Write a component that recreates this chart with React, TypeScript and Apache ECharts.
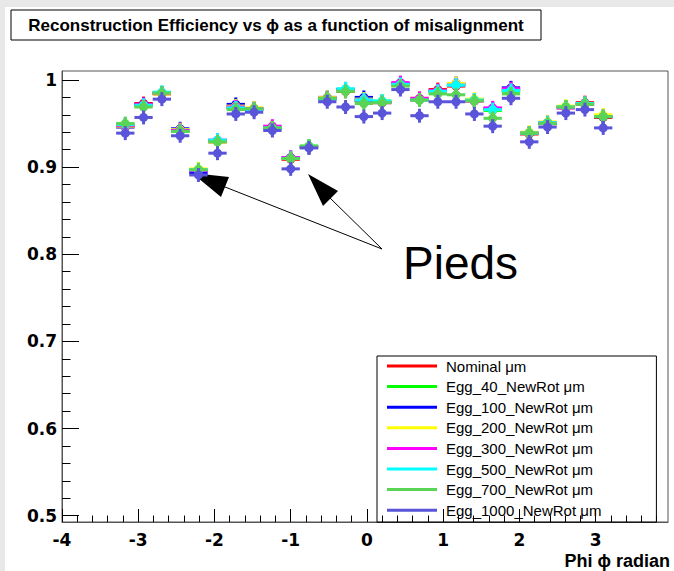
import React, { useEffect, useRef } from "react";
import * as echarts from "echarts";

// Phi bin centres (radian)
const PHI = [
  -3.17, -2.93, -2.69, -2.45, -2.21, -1.96, -1.72, -1.48, -1.24, -1.0, -0.76, -0.52, -0.28, -0.04,
  0.2, 0.44, 0.69, 0.93, 1.17, 1.41, 1.65, 1.89, 2.13, 2.37, 2.61, 2.86, 3.1,
];

// Reconstruction efficiency per misalignment scenario
const NOMINAL = [0.947, 0.973, 0.984, 0.941, 0.896, 0.929, 0.969, 0.966, 0.946, 0.909, 0.923, 0.978, 0.987, 0.976, 0.974, 0.994, 0.977, 0.989, 0.993, 0.976, 0.966, 0.988, 0.938, 0.95, 0.968, 0.974, 0.957];
const EGG_40 = [0.948, 0.971, 0.985, 0.942, 0.897, 0.93, 0.968, 0.967, 0.945, 0.91, 0.924, 0.979, 0.988, 0.977, 0.975, 0.995, 0.978, 0.986, 0.994, 0.977, 0.965, 0.987, 0.939, 0.951, 0.969, 0.972, 0.958];
const EGG_100 = [0.946, 0.972, 0.985, 0.944, 0.893, 0.93, 0.972, 0.967, 0.945, 0.911, 0.923, 0.98, 0.989, 0.98, 0.975, 0.996, 0.978, 0.987, 0.996, 0.977, 0.967, 0.991, 0.939, 0.95, 0.969, 0.973, 0.958];
const EGG_200 = [0.947, 0.97, 0.984, 0.943, 0.898, 0.929, 0.97, 0.968, 0.946, 0.91, 0.924, 0.98, 0.988, 0.978, 0.976, 0.995, 0.979, 0.987, 0.996, 0.978, 0.966, 0.989, 0.94, 0.952, 0.97, 0.973, 0.96];
const EGG_300 = [0.948, 0.972, 0.985, 0.942, 0.896, 0.931, 0.969, 0.967, 0.947, 0.911, 0.923, 0.979, 0.989, 0.977, 0.974, 0.997, 0.979, 0.988, 0.994, 0.976, 0.968, 0.99, 0.939, 0.951, 0.968, 0.972, 0.958];
const EGG_500 = [0.949, 0.971, 0.986, 0.941, 0.897, 0.931, 0.968, 0.966, 0.945, 0.91, 0.924, 0.978, 0.99, 0.977, 0.976, 0.995, 0.977, 0.987, 0.994, 0.977, 0.966, 0.988, 0.939, 0.951, 0.969, 0.973, 0.958];
const EGG_700 = [0.95, 0.969, 0.985, 0.941, 0.897, 0.929, 0.966, 0.967, 0.945, 0.91, 0.924, 0.979, 0.987, 0.973, 0.974, 0.993, 0.977, 0.984, 0.983, 0.976, 0.956, 0.984, 0.939, 0.95, 0.969, 0.972, 0.958];
const EGG_1000 = [0.939, 0.957, 0.978, 0.936, 0.891, 0.916, 0.961, 0.963, 0.942, 0.898, 0.922, 0.975, 0.969, 0.958, 0.962, 0.989, 0.959, 0.975, 0.975, 0.961, 0.947, 0.979, 0.929, 0.946, 0.962, 0.966, 0.945];

const SERIES_NAMES = [
  "Nominal μm",
  "Egg_40_NewRot μm",
  "Egg_100_NewRot μm",
  "Egg_200_NewRot μm",
  "Egg_300_NewRot μm",
  "Egg_500_NewRot μm",
  "Egg_700_NewRot μm",
  "Egg_1000_NewRot μm",
];
const SERIES_VALUES = [NOMINAL, EGG_40, EGG_100, EGG_200, EGG_300, EGG_500, EGG_700, EGG_1000];
const SERIES_COLORS = ["#ff0000", "#00ff00", "#0000ff", "#ffff00", "#ff00ff", "#00ffff", "#59d454", "#5954d9"];

// Axis ticks
const X_TICKS = [-4, -3, -2, -1, 0, 1, 2, 3];
const Y_TICKS = [0.5, 0.6, 0.7, 0.8, 0.9, 1];
const X_RANGE = [-4, 3.95];
const Y_RANGE = [0.4928, 1.0103];

const HALF_BIN = 0.12; // half width of a phi bin
const EFF_ERR = 0.008; // statistical error on efficiency

const FONT = "'Liberation Sans', Arial, Helvetica, sans-serif";
const WIDE_FONT = "'DejaVu Sans', 'Liberation Sans', sans-serif";

function minorTicks(major: number[], lo: number, hi: number, step: number): number[] {
  const out: number[] = [];
  const first = Math.ceil((lo - 1e-9) / step);
  const last = Math.floor((hi + 1e-9) / step);
  for (let k = first; k <= last; k++) {
    const v = +(k * step).toFixed(6);
    if (!major.some((m) => Math.abs(m - v) < 1e-6)) out.push(v);
  }
  return out;
}

export default function App() {
  const ref = useRef<HTMLDivElement>(null);

  useEffect(() => {
    if (!ref.current) return;
    const chart = echarts.init(ref.current, undefined, { renderer: "svg" });

    const series = SERIES_NAMES.map((name, i) => ({
      type: "custom",
      name,
      xAxisIndex: 0,
      yAxisIndex: 0,
      itemStyle: { color: SERIES_COLORS[i] },
      data: PHI.map((x, j) => [x, SERIES_VALUES[i][j]]),
      renderItem: (_params: any, api: any) => {
        const x = api.value(0);
        const y = api.value(1);
        const c = api.coord([x, y]);
        const l = api.coord([x - HALF_BIN, y]);
        const r = api.coord([x + HALF_BIN, y]);
        const t = api.coord([x, y + EFF_ERR]);
        const b = api.coord([x, y - EFF_ERR]);
        const color = SERIES_COLORS[i];
        return {
          type: "group",
          children: [
            { type: "line", shape: { x1: l[0], y1: l[1], x2: r[0], y2: r[1] }, style: { stroke: color, lineWidth: 3 } },
            { type: "line", shape: { x1: t[0], y1: t[1], x2: b[0], y2: b[1] }, style: { stroke: color, lineWidth: 3 } },
            { type: "circle", shape: { cx: c[0], cy: c[1], r: 4.5 }, style: { fill: color } },
          ],
        };
      },
    }));

    const tickLabel = { fontFamily: WIDE_FONT, fontWeight: "bold", fontSize: 17, color: "#000" };

    chart.setOption({
      animation: false,
      backgroundColor: "#e8e8e8",
      grid: { left: 62, right: 6, top: 71, bottom: 49, show: true, borderColor: "#555", borderWidth: 1, backgroundColor: "#fff" },
      xAxis: [
        {
          type: "value",
          min: X_RANGE[0],
          max: X_RANGE[1],
          axisLine: { show: true, onZero: false, lineStyle: { color: "#555", width: 1 } },
          axisTick: { show: true, inside: true, length: 13, customValues: X_TICKS, lineStyle: { color: "#000" } },
          axisLabel: { show: true, margin: 9, customValues: X_TICKS, ...tickLabel },
          splitLine: { show: false },
        },
        {
          type: "value",
          min: X_RANGE[0],
          max: X_RANGE[1],
          position: "bottom",
          axisLine: { show: false, onZero: false },
          axisTick: { show: true, inside: true, length: 6.5, customValues: minorTicks(X_TICKS, X_RANGE[0], X_RANGE[1], 0.2), lineStyle: { color: "#000" } },
          axisLabel: { show: false },
          splitLine: { show: false },
        },
      ],
      yAxis: [
        {
          type: "value",
          min: Y_RANGE[0],
          max: Y_RANGE[1],
          axisLine: { show: true, onZero: false, lineStyle: { color: "#555", width: 1 } },
          axisTick: { show: true, inside: true, length: 17, customValues: Y_TICKS, lineStyle: { color: "#000" } },
          axisLabel: { show: true, margin: 5, customValues: Y_TICKS, formatter: (v: number) => (v === 1 ? "1" : v.toFixed(1)), ...tickLabel },
          splitLine: { show: false },
        },
        {
          type: "value",
          min: Y_RANGE[0],
          max: Y_RANGE[1],
          position: "left",
          axisLine: { show: false, onZero: false },
          axisTick: { show: true, inside: true, length: 8.5, customValues: minorTicks(Y_TICKS, Y_RANGE[0], Y_RANGE[1], 0.02), lineStyle: { color: "#000" } },
          axisLabel: { show: false },
          splitLine: { show: false },
        },
      ],
      legend: {
        orient: "vertical",
        left: 377,
        top: 356,
        padding: [2, 55, 4, 10],
        borderColor: "#000",
        borderWidth: 1,
        itemWidth: 50,
        itemHeight: 3,
        itemGap: 4.6,
        itemTextGap: 10,
        icon: "rect",
        textStyle: { fontFamily: FONT, fontSize: 15, lineHeight: 16, color: "#000", padding: [0, 0, 0, 4] },
        data: SERIES_NAMES,
      },
      graphic: [
        { type: "rect", shape: { x: 5, y: 7, width: 669, height: 564 }, style: { fill: "#fff" }, z: -10, silent: true },
        { type: "rect", shape: { x: 11, y: 10, width: 530, height: 30 }, style: { fill: "#fff", stroke: "#000", lineWidth: 1 }, z: 10 },
        {
          type: "text",
          x: 276,
          y: 25,
          style: { text: "Reconstruction Efficiency vs ϕ as a function of misalignment", fontFamily: FONT, fontWeight: "bold", fontSize: 17, fill: "#000", align: "center", verticalAlign: "middle" },
          z: 11,
        },
        {
          type: "text",
          x: 670,
          y: 561,
          style: { text: "Phi ϕ radian", fontFamily: FONT, fontWeight: "bold", fontSize: 18, fill: "#000", align: "right", verticalAlign: "middle" },
        },
        {
          type: "text",
          x: 403,
          y: 263,
          style: { text: "Pieds", fontFamily: FONT, fontSize: 46, fill: "#000", align: "left", verticalAlign: "middle" },
        },
        { type: "line", shape: { x1: 382, y1: 249, x2: 220, y2: 185 }, style: { stroke: "#000", lineWidth: 1 } },
        { type: "polygon", shape: { points: [[192, 173], [229, 177], [221, 197]] }, style: { fill: "#000" } },
        { type: "line", shape: { x1: 382, y1: 249, x2: 328, y2: 196 }, style: { stroke: "#000", lineWidth: 1 } },
        { type: "polygon", shape: { points: [[308, 174], [338, 191], [323, 206]] }, style: { fill: "#000" } },
      ],
      series,
    });

    return () => chart.dispose();
  }, []);

  return (
    <div style={{ position: "fixed", left: 0, top: 0, width: 674, height: 571 }}>
      <div ref={ref} style={{ width: 674, height: 571 }} />
    </div>
  );
}
